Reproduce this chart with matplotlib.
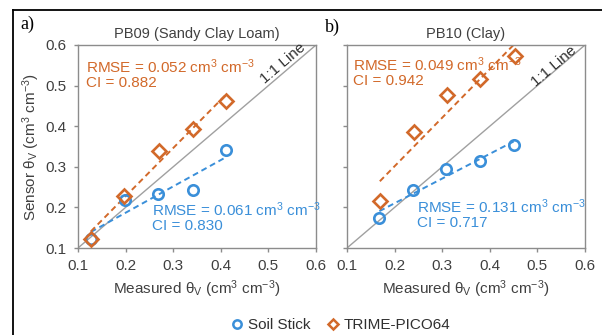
import numpy as np
import matplotlib
matplotlib.use("Agg")
import matplotlib.pyplot as plt
from matplotlib.lines import Line2D

plt.rcParams["font.family"] = ["Liberation Sans", "DejaVu Sans"]
plt.rcParams["mathtext.fontset"] = "stixsans"

# ==========================
# Data
# ==========================
a_meas_soil = [0.127, 0.198, 0.268, 0.342, 0.410]
a_sens_soil = [0.122, 0.219, 0.233, 0.243, 0.341]
a_meas_trime = [0.127, 0.196, 0.270, 0.341, 0.411]
a_sens_trime = [0.122, 0.229, 0.340, 0.393, 0.463]

b_meas_soil = [0.168, 0.238, 0.308, 0.380, 0.450]
b_sens_soil = [0.175, 0.243, 0.295, 0.315, 0.354]
b_meas_trime = [0.169, 0.240, 0.310, 0.380, 0.453]
b_sens_trime = [0.215, 0.385, 0.478, 0.516, 0.573]

titles = ["PB09 (Sandy Clay Loam)", "PB10 (Clay)"]
panel_tags = ["a)", "b)"]
rmse_soil = ["0.061", "0.131"]
ci_soil = ["0.830", "0.717"]
rmse_trime = ["0.052", "0.049"]
ci_trime = ["0.882", "0.942"]
ticks = [0.1, 0.2, 0.3, 0.4, 0.5, 0.6]

BLUE = "#3a8fd9"
ORANGE = "#d2692a"
GRAY = "#8c8c8c"
TXT = "#404040"

fig = plt.figure(figsize=(6.02, 3.35), dpi=100)

# outer frame (only top and left edges fall inside the picture)
fig.add_artist(Line2D([13 / 602, 13 / 602], [0, 1 - 10 / 335], color="black", lw=1.3))
fig.add_artist(Line2D([13 / 602, 1.0], [1 - 10 / 335, 1 - 10 / 335], color="black", lw=1.3))

panels = [
    (a_meas_soil, a_sens_soil, a_meas_trime, a_sens_trime),
    (b_meas_soil, b_sens_soil, b_meas_trime, b_sens_trime),
]
lefts = [78 / 602, 347 / 602]
soil_txt_pos = [(0.255, 0.176), (0.247, 0.184)]
trime_txt_pos = [(0.117, 0.530), (0.113, 0.535)]
oneone_pos = [(0.530, 0.556), (0.534, 0.548)]
tag_pos = [(20 / 602, 1 - 24 / 335), (325 / 602, 1 - 27 / 335)]

theta = r"θ$_\mathregular{V}$"
unit = r"(cm$^\mathregular{3}$ cm$^\mathregular{-3}$)"


def fit_line(ax, x, y, color):
    k, b = np.polyfit(x, y, 1)
    xs = np.array([min(x), max(x)])
    ax.plot(xs, k * xs + b, color=color, lw=1.4, ls=(0, (3, 2)), zorder=2)


for i, (ms, ss, mt, st) in enumerate(panels):
    ax = fig.add_axes([lefts[i], 1 - 248 / 335, 238 / 602, 203 / 335])
    ax.set_xlim(0.1, 0.6)
    ax.set_ylim(0.1, 0.6)
    ax.axline((0.1, 0.1), slope=1, color="#a0a0a0", lw=1.0, zorder=1)

    fit_line(ax, ms, ss, BLUE)
    fit_line(ax, mt, st, ORANGE)
    ax.plot(ms, ss, "o", mfc="none", mec=BLUE, ms=7.5, mew=1.9, zorder=3)
    ax.plot(mt, st, "D", mfc="none", mec=ORANGE, ms=7.5, mew=1.9, zorder=4)

    ax.set_xticks(ticks)
    ax.set_yticks(ticks)
    ax.set_xticklabels([f"{t:.1f}" for t in ticks], fontsize=11, color=TXT)
    if i == 0:
        ax.set_yticklabels([f"{t:.1f}" for t in ticks], fontsize=11, color=TXT)
        ax.set_ylabel("Sensor " + theta + " " + unit, fontsize=11,
                      color=TXT, labelpad=3)
    else:
        ax.set_yticklabels([])
    ax.tick_params(direction="out", length=3, color=GRAY, width=1, pad=5)
    ax.set_xlabel("Measured " + theta + " " + unit, fontsize=11,
                  color=TXT, labelpad=4)
    for sp in ax.spines.values():
        sp.set_color(GRAY)
        sp.set_linewidth(1.0)
    ax.set_title(titles[i], fontsize=10.5, color=TXT, pad=5)

    tx, ty = trime_txt_pos[i]
    ax.text(tx, ty, f"RMSE = {rmse_trime[i]} cm$^\\mathregular{{3}}$ cm$^\\mathregular{{-3}}$\nCI = {ci_trime[i]}",
            color=ORANGE, fontsize=11, va="center", ha="left", linespacing=1.0)
    sx, sy = soil_txt_pos[i]
    ax.text(sx, sy, f"RMSE = {rmse_soil[i]} cm$^\\mathregular{{3}}$ cm$^\\mathregular{{-3}}$\nCI = {ci_soil[i]}",
            color=BLUE, fontsize=11, va="center", ha="left", linespacing=1.0)
    ox, oy = oneone_pos[i]
    ax.text(ox, oy, "1:1 Line", fontsize=11, color="#303030", rotation=40.5,
            rotation_mode="anchor", ha="center", va="center")

    fig.text(tag_pos[i][0], tag_pos[i][1], panel_tags[i], fontsize=13,
             family="Liberation Serif", va="center", ha="left")

handles = [
    Line2D([], [], ls="none", marker="o", mfc="none", mec=BLUE, ms=6, mew=1.8),
    Line2D([], [], ls="none", marker="D", mfc="none", mec=ORANGE, ms=5, mew=1.8),
]
fig.legend(handles, ["Soil Stick", "TRIME-PICO64"], loc="center",
           bbox_to_anchor=(340 / 602, 1 - 325 / 335), ncol=2, frameon=False,
           fontsize=11, handletextpad=0.2, columnspacing=1.0, handlelength=1.0,
           labelcolor="#303030")

fig.savefig("out.png", dpi=100)
